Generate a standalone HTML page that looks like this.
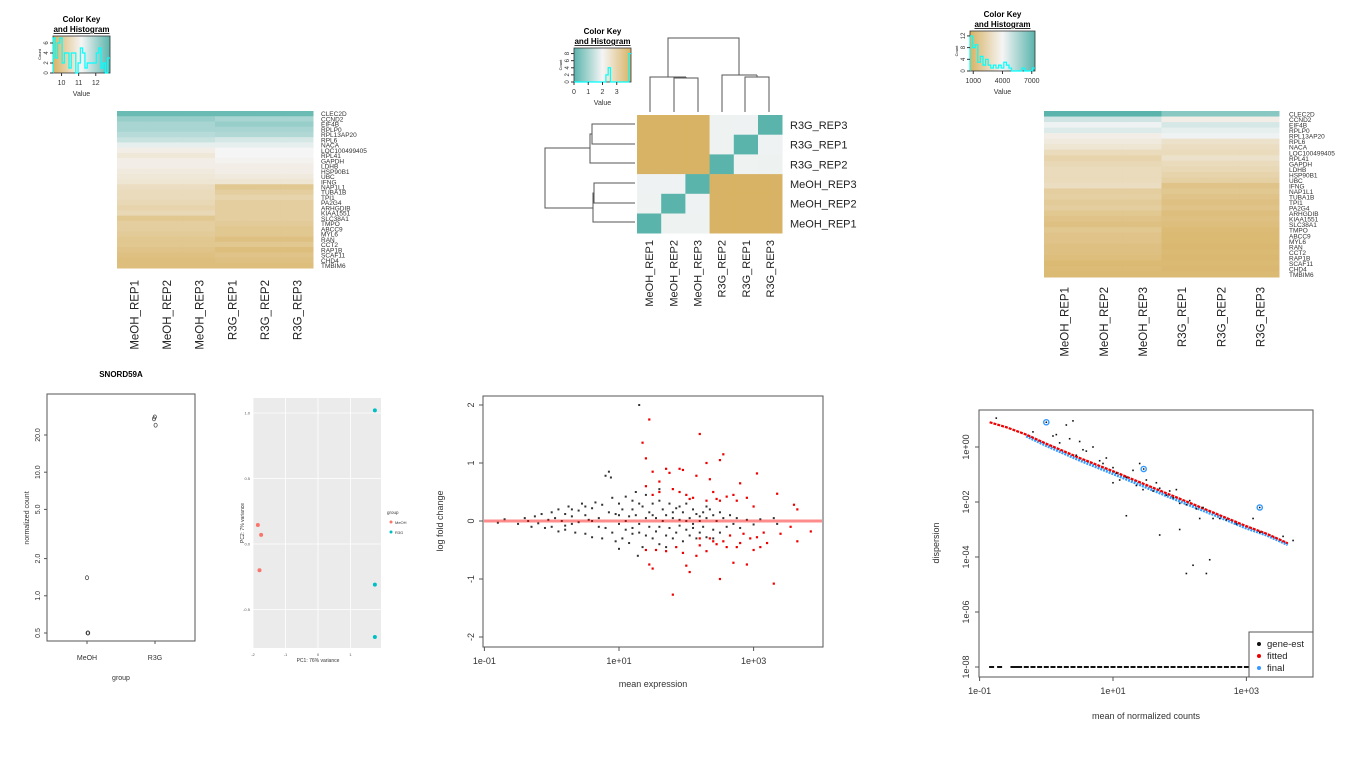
<!DOCTYPE html>
<html><head><meta charset="utf-8"><style>
body{margin:0;background:#fff;}
svg{display:block;font-family:"Liberation Sans",sans-serif;}
</style></head><body>
<svg id="fig" width="1366" height="768" viewBox="0 0 1366 768"></svg>
<script>
// ---------- DATA ----------
const genes=["CLEC2D","CCND2","EIF4B","RPLP0","RPL13AP20","RPL6","NACA","LOC100499405","RPL41","GAPDH","LDHB","HSP90B1","UBC","IFNG","NAP1L1","TUBA1B","TPI1","PA2G4","ARHGDIB","KIAA1551","SLC38A1","TMPO","ABCC9","MYL6","RAN","CCT2","RAP1B","SCAF11","CHD4","TMBIM6"];
const samples=["MeOH_REP1","MeOH_REP2","MeOH_REP3","R3G_REP1","R3G_REP2","R3G_REP3"];
const heat1MeOH=[0.95,0.8,0.75,0.75,0.7,0.65,0.55,0.45,0.4,0.45,0.45,0.42,0.4,0.38,0.32,0.3,0.3,0.28,0.25,0.28,0.15,0.2,0.2,0.18,0.15,0.15,0.12,0.1,0.08,0.08];
const heat1R3G=[0.95,0.75,0.8,0.75,0.72,0.6,0.55,0.5,0.5,0.48,0.45,0.45,0.42,0.38,0.15,0.2,0.25,0.2,0.2,0.2,0.2,0.18,0.15,0.15,0.1,0.15,0.08,0.12,0.1,0.08];
const heat3MeOH=[1.0,0.62,0.52,0.58,0.45,0.42,0.38,0.3,0.25,0.28,0.3,0.3,0.3,0.32,0.2,0.22,0.18,0.2,0.15,0.12,0.1,0.15,0.12,0.12,0.1,0.1,0.08,0.05,0.06,0.05];
const heat3R3G=[0.85,0.45,0.6,0.55,0.52,0.35,0.32,0.3,0.35,0.3,0.28,0.25,0.22,0.12,0.15,0.12,0.1,0.12,0.08,0.1,0.08,0.06,0.05,0.05,0.04,0.05,0.04,0.05,0.04,0.05];
const distRows=["R3G_REP3","R3G_REP1","R3G_REP2","MeOH_REP3","MeOH_REP2","MeOH_REP1"];
const distCols=["MeOH_REP1","MeOH_REP2","MeOH_REP3","R3G_REP2","R3G_REP1","R3G_REP3"];
const distVals=[[4,4,4,0.48,0.45,0],[4,4,4,0.48,0,0.45],[4,4,4,0,0.48,0.5],[0.45,0.45,0,4,4,4],[0.48,0,0.45,4,4,4],[0,0.48,0.48,4,4,4]];
const hist1=[7,3,6,7,2,4,4,1,4,4,0,2,5,4,1,2,2,2,2,4,5,1,2,0,3];
const hist2=[0,0,0,0,0,0,0,0,0,0,0,0,0,0,2,4,0,0,0,0,0,0,0,0,8];
const hist3=[12,8,9,3,5,2,4,2,1,2,1,2,1,3,2,1,0,0,0,0,1,0,0,0,1];
const countGroups=["MeOH","R3G"];
const countMeOH=[1.4,0.5,0.5];
const countR3G=[27,28,24];
const pcaMeOH_x=[-1.85,-1.75,-1.8];
const pcaMeOH_y=[0.145,0.07,-0.2];
const pcaR3G_x=[1.75,1.75,1.75];
const pcaR3G_y=[1.02,-0.31,-0.71];
const maBlack=[[-0.8,-0.03],[-0.7,0.03],[-0.5,-0.05],[-0.4,0.05],[-0.35,0],[-0.3,-0.1],[-0.25,0.08],[-0.2,-0.04],[-0.15,0.12],[-0.1,-0.12],[-0.05,0.02],[0,0.15],[0,-0.1],[0.05,0.05],[0.1,-0.18],[0.1,0.2],[0.15,0],[0.2,0.12],[0.2,-0.15],[0.25,0.25],[0.3,-0.05],[0.3,0.08],[0.35,-0.2],[0.4,0.18],[0.4,-0.02],[0.45,0.3],[0.5,-0.22],[0.5,0.1],[0.55,0.02],[0.6,-0.28],[0.6,0.22],[0.65,0.32],[0.7,-0.1],[0.7,0.05],[0.75,-0.3],[0.75,0.28],[0.8,0.78],[0.85,0.85],[0.85,0.15],[0.88,0.75],[0.9,-0.2],[0.9,0.4],[0.95,0.12],[1.0,-0.48],[1.0,0.3],[1.0,-0.05],[1.05,0.2],[1.05,-0.3],[1.1,0.42],[1.1,-0.15],[1.15,0.08],[1.15,-0.38],[1.2,0.35],[1.2,-0.22],[1.25,0.5],[1.25,0.1],[1.28,-0.6],[1.3,2.0],[1.3,-0.05],[1.35,0.25],[1.35,-0.45],[1.4,0.45],[1.4,-0.25],[1.45,0.15],[1.45,-0.1],[1.5,0.3],[1.5,-0.3],[1.55,0.05],[1.55,-0.18],[1.6,0.35],[1.6,-0.4],[1.65,0.2],[1.65,0],[1.7,-0.25],[1.7,0.1],[1.75,0.3],[1.75,-0.12],[1.8,0.05],[1.8,-0.3],[1.85,0.22],[1.85,-0.2],[1.9,0.02],[1.9,-0.08],[1.95,0.15],[1.95,-0.35],[2.0,0.3],[2.0,-0.15],[2.05,0.05],[2.05,-0.25],[2.1,0.2],[2.1,-0.05],[2.15,-0.3],[2.15,0.12],[2.2,0],[2.2,-0.2],[2.25,0.15],[2.25,-0.1],[2.3,0.05],[2.3,-0.28],[2.35,0.2],[2.4,-0.15],[2.4,0.1],[2.45,0],[2.5,-0.2],[2.5,0.15],[2.55,0.05],[2.6,-0.1],[2.65,0.1],[2.7,-0.05],[2.75,0.05],[2.8,-0.12],[2.9,0.02],[3.0,-0.06],[3.1,0.03],[3.3,0.05],[3.35,-0.05],[1.6,0.55],[1.2,-0.12],[1.4,0.05],[1.8,0.15],[2.0,0.0],[2.2,0.08],[2.4,-0.3],[1.5,0.1],[1.7,-0.45],[0.6,0.0],[0.3,0.2],[1.1,0.0],[1.3,0.3],[0.95,-0.35],[1.0,0.1],[1.2,0.2],[1.3,-0.2],[1.6,-0.1],[1.9,0.25],[2.1,-0.12],[2.3,0.25],[0.8,-0.12],[0.5,0.25],[0.2,-0.08]];
const maRed=[[1.35,1.35],[1.45,1.75],[1.4,1.08],[1.5,0.85],[1.6,0.68],[1.7,0.9],[1.75,0.83],[1.9,0.9],[1.95,0.88],[2.2,1.5],[2.3,1.0],[2.15,0.78],[2.5,1.05],[2.55,1.15],[2.35,0.72],[2.8,0.65],[3.05,0.82],[3.35,0.47],[3.6,0.28],[3.65,0.2],[1.4,0.6],[1.5,0.45],[1.6,0.5],[1.8,0.55],[1.9,0.5],[2.0,0.45],[2.05,0.38],[2.1,0.4],[2.3,0.35],[2.4,0.5],[2.45,0.38],[2.5,0.35],[2.6,0.42],[2.7,0.45],[2.75,0.35],[2.9,0.4],[3.0,0.25],[1.4,-0.5],[1.45,-0.75],[1.5,-0.82],[1.55,-0.5],[1.7,-0.52],[1.8,-1.27],[1.85,-0.45],[1.95,-0.55],[2.0,-0.77],[2.05,-0.88],[2.15,-0.6],[2.2,-0.42],[2.3,-0.52],[2.35,-0.3],[2.4,-0.35],[2.45,-0.4],[2.5,-1.0],[2.55,-0.35],[2.6,-0.45],[2.7,-0.72],[2.75,-0.45],[2.8,-0.38],[2.9,-0.75],[2.95,-0.3],[3.0,-0.5],[3.05,-0.28],[3.1,-0.45],[3.2,-0.38],[3.3,-1.08],[3.4,-0.22],[3.55,-0.1],[3.65,-0.35],[3.85,-0.18],[2.2,-0.3],[2.65,-0.25],[2.85,-0.22],[3.15,-0.2]];
const dispFitM=[-0.85,-0.6,-0.3,0,0.5,1,1.5,2,2.5,3,3.3,3.62];
const dispFitD=[0.9,0.72,0.45,0.12,-0.4,-0.88,-1.38,-1.88,-2.38,-2.88,-3.15,-3.5];
const dispFinalM=[-0.3,0,0.5,1,1.5,2,2.5,3,3.3,3.62];
const dispFinalD=[0.4,0.05,-0.48,-0.97,-1.47,-1.97,-2.45,-2.95,-3.2,-3.55];
const dispGene=[[-0.75,1.05],[-0.2,0.55],[0.1,0.4],[0.15,0.45],[0.2,0.15],[0.35,0.3],[0.45,-0.3],[0.5,0.2],[0.55,-0.1],[0.6,-0.15],[0.7,0.0],[0.8,-0.5],[0.85,-0.6],[0.9,-0.4],[1.0,-0.75],[1.0,-1.3],[1.05,-0.95],[1.1,-1.2],[1.2,-1.1],[1.3,-0.85],[1.35,-1.4],[1.4,-0.6],[1.45,-1.55],[1.5,-1.2],[1.6,-1.6],[1.65,-1.3],[1.7,-1.5],[1.8,-1.75],[1.85,-1.6],[1.9,-1.85],[1.95,-1.55],[2.0,-2.05],[2.1,-2.1],[2.15,-1.95],[2.25,-2.25],[2.3,-2.6],[2.35,-2.2],[2.5,-2.6],[2.6,-2.6],[2.7,-2.65],[2.85,-2.8],[3.1,-2.6],[3.2,-3.1],[3.55,-3.25],[3.7,-3.4],[1.2,-2.5],[1.7,-3.2],[2.0,-3.0],[2.2,-4.3],[2.1,-4.6],[2.4,-4.6],[2.45,-4.1],[0.3,0.8],[0.4,0.95]];
const dispOutM=[0.0,1.46,3.2];
const dispOutD=[0.9,-0.8,-2.2];
const dispZeroM=[-0.82,-0.7,-0.5,-0.45,-0.4,-0.3,-0.2,-0.1,0,0.1,0.2,0.3,0.4,0.5,0.6,0.7,0.8,0.9,1.0,1.1,1.2,1.3,1.4,1.5,1.6,1.7,1.8,1.9,2.0,2.1,2.2,2.3,2.4,2.5,2.6,2.7,2.8,2.9,3.0];

// ---------- helpers ----------
const NS="http://www.w3.org/2000/svg";
const svg=document.getElementById('fig');
function el(tag,attrs,parent,txt){const e=document.createElementNS(NS,tag);for(const k in attrs)e.setAttribute(k,attrs[k]);if(txt!==undefined)e.textContent=txt;(parent||svg).appendChild(e);return e;}
function heatColor(v){const tan=[216,179,101],wh=[245,245,245],te=[90,180,172];let a,b,t;if(v<0.5){a=tan;b=wh;t=v/0.5;}else{a=wh;b=te;t=(v-0.5)/0.5;}return `rgb(${a.map((c,i)=>Math.round(c+(b[i]-c)*t)).join(',')})`;}
let gradN=0;
function colorKey(x,y,w,h,hist,reversed,ticks,tickPos,maxC,cticks,name){
 const g=el('g',{});
 
 
 const id='grad'+(gradN++);
 const d=el('defs',{},g);const lg=el('linearGradient',{id:id,x1:0,x2:1,y1:0,y2:0},d);
 const stops=reversed?['#5ab4ac','#f5f5f5','#d8b365']:['#d8b365','#f5f5f5','#5ab4ac'];
 stops.forEach((c,i)=>el('stop',{offset:i*50+'%','stop-color':c},lg));
 el('rect',{x:x,y:y,width:w,height:h,fill:`url(#${id})`,stroke:'#333','stroke-width':0.8},g);
 el('text',{x:x+w/2,y:y-14,'font-size':8,'font-weight':'bold','text-anchor':'middle'},g,'Color Key');
 el('text',{x:x+w/2,y:y-4,'font-size':8,'font-weight':'bold','text-anchor':'middle','text-decoration':'underline'},g,'and Histogram');
 const bw=w/hist.length;let p='M'+x+','+(y+h);
 hist.forEach((c,i)=>{const yy=y+h-c/maxC*(h-2);p+=` L${x+i*bw},${yy} L${x+(i+1)*bw},${yy}`;});
 el('path',{d:p,fill:'none',stroke:'#00ffff','stroke-width':1.2},g);
 ticks.forEach((t,i)=>{const tx=x+tickPos[i]*w;el('line',{x1:tx,x2:tx,y1:y+h,y2:y+h+3,stroke:'#333'},g);el('text',{x:tx,y:y+h+12,'font-size':7,'text-anchor':'middle',fill:'#333'},g,t);});
 cticks.forEach(c=>{const ty=y+h-c/maxC*(h-2);el('line',{x1:x-3,x2:x,y1:ty,y2:ty,stroke:'#333'},g);el('text',{x:x-5,y:ty,'font-size':6,'text-anchor':'middle',transform:`rotate(-90 ${x-5} ${ty})`,fill:'#333'},g,c);});
 el('text',{x:x-12,y:y+h/2,'font-size':4,'text-anchor':'middle',transform:`rotate(-90 ${x-12} ${y+h/2})`},g,'Count');
 el('text',{x:x+w/2,y:y+h+23,'font-size':7,'text-anchor':'middle',fill:'#333'},g,'Value');
}
function geneHeatmap(x0,y0,w,h,meoh,r3g,labelX,colTop,name){
 const g=el('g',{});
 
 
 const cw=w/6,rh=h/genes.length;
 genes.forEach((gn,r)=>{for(let c=0;c<6;c++){const v=c<3?meoh[r]:r3g[r];const rc=el('rect',{x:x0+c*cw,y:y0+r*rh,width:cw+0.5,height:rh+0.5,fill:heatColor(v)},g);}
  const t=el('text',{x:labelX,y:y0+r*rh+rh,'font-size':6.5,fill:'#333'},g,gn);});
 samples.forEach((s,c)=>{const cx=x0+c*cw+cw/2+5;const t=el('text',{x:cx,y:colTop,'font-size':11.5,'text-anchor':'end',transform:`rotate(-90 ${cx} ${colTop})`,fill:'#222'},g,s);});
}
// ---------- heatmaps ----------
colorKey(53,36,57,37,hist1,false,['10','11','12'],[0.15,0.45,0.75],7,[0,2,4,6],'color-key-1');
geneHeatmap(117,111,196,157,heat1MeOH,heat1R3G,321,280,'heatmap-genes-left');
colorKey(574,48,57,34,hist2,true,['0','1','2','3'],[0,0.25,0.5,0.75],9,[0,2,4,6,8],'color-key-2');
colorKey(970,31,65,40,hist3,false,['1000','4000','7000'],[0.05,0.5,0.95],13,[0,4,8,12],'color-key-3');
geneHeatmap(1044,111,235,166,heat3MeOH,heat3R3G,1289,287,'heatmap-genes-right');

// distance heatmap
(function(){
 const g=el('g',{});
 
 
 const x0=637,y0=115,cw=24.2,rh=19.7;
 distRows.forEach((rn,r)=>{distCols.forEach((cn,c)=>{const v=distVals[r][c];const col=v>=3?'#d8b365':(v<=0.01?'#5ab4ac':heatColor(0.5+v*0.05));const rc=el('rect',{x:x0+c*cw,y:y0+r*rh,width:cw+0.3,height:rh+0.3,fill:col},g);});
  const t=el('text',{x:790,y:y0+r*rh+rh/2+4,'font-size':11,fill:'#222'},g,rn);});
 distCols.forEach((cn,c)=>{const cx=x0+c*cw+cw/2+4;const t=el('text',{x:cx,y:240,'font-size':11,'text-anchor':'end',transform:`rotate(-90 ${cx} 240)`,fill:'#222'},g,cn);});
 const st={fill:'none',stroke:'#555','stroke-width':1};
 const top='M650,112 V77 H686 M674,112 V78 H698 V112 M686,78 V77 M722,112 V75 H757 M745,112 V77 H769 V112 M757,77 V75 M668,77 V38 H739 V75';
 const left='M635,124 H592 V144 H635 M592,134 H590 V163 H635 M635,183 H594 V203 H635 M594,193 H593 V222 H635 M590,148 H545 V208 H593';
 const d1=el('path',Object.assign({d:top},st),g);
 const d2=el('path',Object.assign({d:left},st),g);
})();

// ---------- counts plot ----------
(function(){
 const g=el('g',{});
 
 
 const ly=v=>633-123.6*Math.log10(v/0.5);
 const gx=[87,155];
 el('rect',{x:47,y:394,width:148,height:247,fill:'none',stroke:'#555'},g);
 const tt=el('text',{x:121,y:377,'font-size':8,'font-weight':'bold','text-anchor':'middle'},g,'SNORD59A');
 [0.5,1.0,2.0,5.0,10.0,20.0].forEach(v=>{const y=ly(v);el('line',{x1:44,x2:47,y1:y,y2:y,stroke:'#555'},g);el('text',{x:40,y:y,'font-size':7,'text-anchor':'middle',transform:`rotate(-90 40 ${y})`,fill:'#333'},g,v.toFixed(1));});
 countGroups.forEach((c,i)=>{el('line',{x1:gx[i],x2:gx[i],y1:641,y2:644,stroke:'#555'},g);el('text',{x:gx[i],y:660,'font-size':7,'text-anchor':'middle',fill:'#333'},g,c);});
 el('text',{x:121,y:680,'font-size':7,'text-anchor':'middle',fill:'#333'},g,'group');
 el('text',{x:29,y:518,'font-size':7,'text-anchor':'middle',transform:'rotate(-90 29 518)',fill:'#333'},g,'normalized count');
 countMeOH.forEach((v,i)=>{const c=el('ellipse',{cx:gx[0]+i*0.6,cy:ly(v),rx:1.6,ry:2,fill:'none',stroke:'#333','stroke-width':0.7},g);});
 countR3G.forEach((v,i)=>{const c=el('ellipse',{cx:gx[1]-1+i*0.8,cy:ly(v),rx:1.6,ry:2,fill:'none',stroke:'#333','stroke-width':0.7},g);});
})();

// ---------- PCA ----------
(function(){
 const g=el('g',{});
 
 
 const X=v=>318+v*32.5, Y=v=>544-v*131;
 el('rect',{x:253,y:398,width:128,height:250,fill:'#ebebeb'},g);
 [-2,-1,0,1].forEach(v=>{el('line',{x1:X(v),x2:X(v),y1:398,y2:648,stroke:'#fff','stroke-width':0.8},g);el('text',{x:X(v),y:656,'font-size':4,'text-anchor':'middle',fill:'#555'},g,v);});
 [1.0,0.5,0.0,-0.5].forEach(v=>{el('line',{x1:253,x2:381,y1:Y(v),y2:Y(v),stroke:'#fff','stroke-width':0.8},g);el('text',{x:250,y:Y(v)+1.5,'font-size':4,'text-anchor':'end',fill:'#555'},g,v.toFixed(1));});
 el('text',{x:318,y:662,'font-size':5,'text-anchor':'middle',fill:'#333'},g,'PC1: 76% variance');
 el('text',{x:244,y:523,'font-size':5,'text-anchor':'middle',transform:'rotate(-90 244 523)',fill:'#333'},g,'PC2: 7% variance');
 pcaMeOH_x.forEach((v,i)=>{const c=el('circle',{cx:X(v),cy:Y(pcaMeOH_y[i]),r:2,fill:'#f8766d'},g);});
 pcaR3G_x.forEach((v,i)=>{const c=el('circle',{cx:X(v),cy:Y(pcaR3G_y[i]),r:2,fill:'#00bfc4'},g);});
 el('text',{x:387,y:514,'font-size':4.5,fill:'#333'},g,'group');
 el('circle',{cx:391,cy:522,r:1.5,fill:'#f8766d'},g);el('text',{x:395,y:524,'font-size':4,fill:'#333'},g,'MeOH');
 el('circle',{cx:391,cy:532,r:1.5,fill:'#00bfc4'},g);el('text',{x:395,y:534,'font-size':4,fill:'#333'},g,'R3G');
})();

// ---------- MA plot ----------
(function(){
 const g=el('g',{});
 
 
 const X=l=>619+(l-1)*67.3, Y=v=>521-v*58;
 el('rect',{x:483,y:396,width:340,height:251,fill:'none',stroke:'#555'},g);
 [[-1,'1e-01'],[1,'1e+01'],[3,'1e+03']].forEach(([l,s])=>{el('line',{x1:X(l),x2:X(l),y1:647,y2:651,stroke:'#555'},g);el('text',{x:X(l),y:664,'font-size':9,'text-anchor':'middle',fill:'#333'},g,s);});
 [2,1,0,-1,-2].forEach(v=>{el('line',{x1:479,x2:483,y1:Y(v),y2:Y(v),stroke:'#555'},g);el('text',{x:474,y:Y(v),'font-size':9,'text-anchor':'middle',transform:`rotate(-90 474 ${Y(v)})`,fill:'#333'},g,v);});
 el('text',{x:653,y:687,'font-size':9,'text-anchor':'middle',fill:'#333'},g,'mean expression');
 el('text',{x:443,y:521,'font-size':9,'text-anchor':'middle',transform:'rotate(-90 443 521)',fill:'#333'},g,'log fold change');
 maBlack.forEach(p=>{const c=el('rect',{x:X(p[0])-1,y:Y(p[1])-1,width:2,height:2,fill:'#333'},g);});
 maRed.forEach(p=>{const c=el('rect',{x:X(p[0])-1.1,y:Y(p[1])-1.1,width:2.2,height:2.2,fill:'#e00'},g);});
 const l=el('line',{x1:484,x2:822,y1:Y(0),y2:Y(0),stroke:'#ff0000','stroke-opacity':0.45,'stroke-width':3},g);
})();

// ---------- dispersion plot ----------
(function(){
 const g=el('g',{});
 
 
 const X=l=>1113+(l-1)*66.7, Y=l=>447-l*27.5;
 el('rect',{x:979,y:410,width:334,height:267,fill:'none',stroke:'#555'},g);
 [[-1,'1e-01'],[1,'1e+01'],[3,'1e+03']].forEach(([l,s])=>{el('line',{x1:X(l),x2:X(l),y1:677,y2:681,stroke:'#555'},g);el('text',{x:X(l),y:694,'font-size':9,'text-anchor':'middle',fill:'#333'},g,s);});
 [[0,'1e+00'],[-2,'1e-02'],[-4,'1e-04'],[-6,'1e-06'],[-8,'1e-08']].forEach(([l,s])=>{el('line',{x1:975,x2:979,y1:Y(l),y2:Y(l),stroke:'#555'},g);el('text',{x:969,y:Y(l),'font-size':9,'text-anchor':'middle',transform:`rotate(-90 969 ${Y(l)})`,fill:'#333'},g,s);});
 el('text',{x:1146,y:719,'font-size':9,'text-anchor':'middle',fill:'#333'},g,'mean of normalized counts');
 el('text',{x:939,y:543,'font-size':9,'text-anchor':'middle',transform:'rotate(-90 939 543)',fill:'#333'},g,'dispersion');
 dispZeroM.forEach(m=>{el('rect',{x:X(m)-2.5,y:Y(-8)-1,width:5,height:2,fill:'#111'},g);});
 let pf='';dispFinalM.forEach((m,i)=>{pf+=(i?'L':'M')+X(m)+','+Y(dispFinalD[i]);});
 const lf=el('path',{d:pf,fill:'none',stroke:'#3399ff','stroke-width':3,'stroke-dasharray':'2 1'},g);
 let pr='';dispFitM.forEach((m,i)=>{pr+=(i?'L':'M')+X(m)+','+Y(dispFitD[i]);});
 const lr=el('path',{d:pr,fill:'none',stroke:'#ee0000','stroke-width':2.2,'stroke-dasharray':'3 1'},g);
 dispGene.forEach(p=>{const c=el('rect',{x:X(p[0])-0.8,y:Y(p[1])-0.8,width:1.6,height:1.6,fill:'#111'},g);});
 dispOutM.forEach((m,i)=>{const c=el('circle',{cx:X(m),cy:Y(dispOutD[i]),r:2.6,fill:'none',stroke:'#3399ff','stroke-width':1.4},g);el('circle',{cx:X(m),cy:Y(dispOutD[i]),r:0.9,fill:'#111'},g);});
 const lg=el('g',{},g);
 el('rect',{x:1249,y:632,width:64,height:45,fill:'#fff',stroke:'#555'},lg);
 [['gene-est','#111'],['fitted','#ee0000'],['final','#3399ff']].forEach(([t,c],i)=>{el('circle',{cx:1259,cy:644+i*12,r:2,fill:c},lg);el('text',{x:1267,y:647+i*12,'font-size':9.5,fill:'#222'},lg,t);});
})();
</script>
</body></html>
